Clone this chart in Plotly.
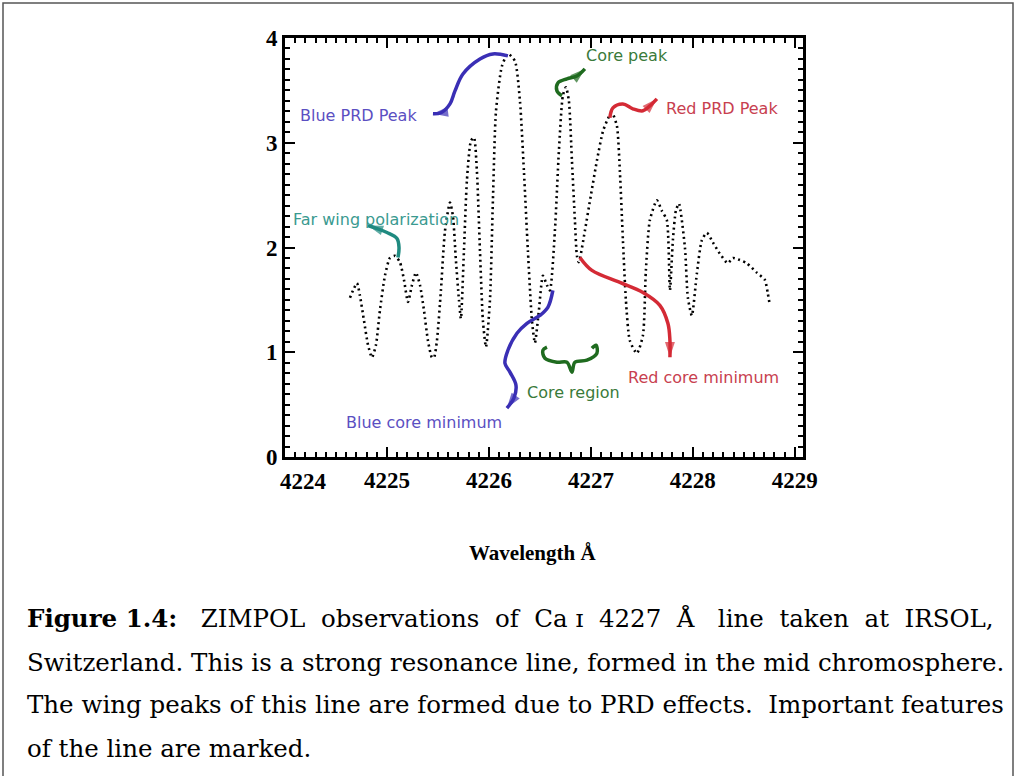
import plotly.graph_objects as go

# ---- data ----
wavelength = [4224.637, 4224.667, 4224.706, 4224.735, 4224.775, 4224.814, 4224.853, 4224.892, 4224.931, 4224.980,
              4225.029, 4225.078, 4225.127, 4225.167, 4225.206, 4225.245, 4225.284, 4225.324, 4225.363, 4225.402,
              4225.441, 4225.461, 4225.490, 4225.529, 4225.569, 4225.618, 4225.647, 4225.676, 4225.706, 4225.725,
              4225.755, 4225.784, 4225.824, 4225.853, 4225.882, 4225.912, 4225.941, 4225.971, 4226.010, 4226.039,
              4226.069, 4226.127, 4226.186, 4226.255, 4226.304, 4226.343, 4226.382, 4226.422, 4226.451, 4226.490,
              4226.529, 4226.569, 4226.598, 4226.647, 4226.686, 4226.725, 4226.755, 4226.784, 4226.814, 4226.843,
              4226.863, 4226.882, 4226.941, 4227.000, 4227.059, 4227.118, 4227.167, 4227.206, 4227.255, 4227.284,
              4227.314, 4227.343, 4227.382, 4227.451, 4227.510, 4227.539, 4227.578, 4227.647, 4227.696, 4227.745,
              4227.775, 4227.804, 4227.833, 4227.863, 4227.922, 4227.951, 4227.990, 4228.039, 4228.088, 4228.137,
              4228.196, 4228.265, 4228.343, 4228.392, 4228.461, 4228.529, 4228.627, 4228.706, 4228.735, 4228.755]
polarization = [1.52, 1.59, 1.66, 1.54, 1.30, 1.07, 0.95, 1.07, 1.40, 1.73,
                1.90, 1.92, 1.86, 1.69, 1.48, 1.64, 1.76, 1.64, 1.40, 1.11,
                0.95, 0.95, 1.11, 1.59, 2.16, 2.43, 2.30, 1.88, 1.50, 1.32,
                1.97, 2.64, 3.02, 3.05, 2.73, 1.97, 1.30, 1.05, 1.50, 2.45,
                3.30, 3.73, 3.85, 3.78, 3.40, 2.73, 1.97, 1.30, 1.09, 1.40,
                1.73, 1.64, 1.59, 2.16, 2.92, 3.45, 3.53, 3.40, 2.83, 2.26,
                1.92, 1.86, 2.16, 2.50, 2.83, 3.11, 3.23, 3.29, 3.16, 2.73,
                2.07, 1.50, 1.11, 0.99, 1.16, 1.78, 2.26, 2.45, 2.35, 2.26,
                1.59, 2.07, 2.35, 2.42, 2.00, 1.52, 1.35, 1.75, 2.07, 2.14,
                2.05, 1.94, 1.85, 1.90, 1.88, 1.85, 1.76, 1.69, 1.56, 1.45]

x_ticks = [4224, 4225, 4226, 4227, 4228, 4229]
y_ticks = [0, 1, 2, 3, 4]

caption_lines = [
    "<b>Figure 1.4:</b>   ZIMPOL  observations  of  Ca \u026a  4227  \u00c5   line  taken  at  IRSOL,",
    "Switzerland. This is a strong resonance line, formed in the mid chromosphere.",
    "The wing peaks of this line are formed due to PRD effects.  Important features",
    "of the line are marked.",
]

# hand-drawn markers (label text, colours, pen paths in data units)
marks = [
    dict(label="Blue PRD Peak", tcol="#5b4fc2", pcol="#3a2fb5", tx=4224.13, ty=3.26,
         px=[4226.186, 4226.039, 4225.912, 4225.745, 4225.667, 4225.618, 4225.529, 4225.451],
         py=[3.829, 3.848, 3.800, 3.657, 3.495, 3.371, 3.286, 3.276], arrow=True),
    dict(label="Far wing polarization", tcol="#3a9a90", pcol="#1f8a80", tx=4224.06, ty=2.27,
         px=[4225.108, 4225.118, 4225.098, 4225.000, 4224.902, 4224.814],
         py=[1.905, 2.000, 2.086, 2.143, 2.181, 2.210], arrow=True),
    dict(label="Core peak", tcol="#3a7a3a", pcol="#1f6b1f", tx=4226.93, ty=3.83,
         px=[4226.716, 4226.667, 4226.676, 4226.765, 4226.863, 4226.941],
         py=[3.448, 3.495, 3.571, 3.610, 3.638, 3.705], arrow=True),
    dict(label="Red PRD Peak", tcol="#c8404f", pcol="#d42a35", tx=4227.72, ty=3.33,
         px=[4227.186, 4227.216, 4227.314, 4227.412, 4227.510, 4227.578, 4227.647],
         py=[3.238, 3.333, 3.371, 3.324, 3.305, 3.352, 3.419], arrow=True),
    dict(label="Blue core minimum", tcol="#5b4fc2", pcol="#3a2fb5", tx=4224.58, ty=0.33,
         px=[4226.627, 4226.578, 4226.500, 4226.373, 4226.275, 4226.186, 4226.157, 4226.206, 4226.265, 4226.245, 4226.176],
         py=[1.590, 1.429, 1.352, 1.276, 1.181, 1.019, 0.895, 0.810, 0.686, 0.562, 0.467], arrow=True),
    dict(label="Core region", tcol="#3a7a3a", pcol="#1f6b1f", tx=4226.35, ty=0.62,
         px=[4227.010, 4227.049, 4227.059, 4226.961, 4226.843, 4226.814, 4226.765, 4226.667, 4226.549, 4226.529, 4226.569],
         py=[1.038, 1.067, 0.990, 0.924, 0.905, 0.810, 0.905, 0.905, 0.943, 1.019, 1.048], arrow=False),
    dict(label="Red core minimum", tcol="#c8404f", pcol="#d42a35", tx=4227.34, ty=0.76,
         px=[4226.892, 4227.010, 4227.284, 4227.510, 4227.676, 4227.755, 4227.775, 4227.775],
         py=[1.905, 1.781, 1.667, 1.571, 1.448, 1.276, 1.114, 0.952], arrow=True),
]

# ---- layout geometry (pixels) ----
W, H = 1016, 776
L, R, T, B = 285, 803, 38, 457


def paper_x(px):
    return (px - L) / (R - L)


def paper_y(py):
    return (B - py) / (B - T)


fig = go.Figure()

fig.add_trace(go.Scatter(
    x=wavelength, y=polarization, mode="lines",
    line=dict(color="black", width=2.6, dash="2px,3.5px", shape="spline", smoothing=0.6),
    hoverinfo="skip", showlegend=False))

annotations = []
for m in marks:
    n = len(m["px"])
    if m["arrow"]:
        fig.add_trace(go.Scatter(
            x=m["px"], y=m["py"], mode="lines+markers",
            line=dict(color=m["pcol"], width=3.5, shape="spline", smoothing=1.0),
            marker=dict(symbol=["circle"] * (n - 1) + ["arrow"], size=[0] * (n - 1) + [16],
                        angleref="previous", color=m["pcol"], line=dict(width=0)),
            hoverinfo="skip", showlegend=False))
    else:
        fig.add_trace(go.Scatter(
            x=m["px"], y=m["py"], mode="lines",
            line=dict(color=m["pcol"], width=3.5, shape="spline", smoothing=1.0),
            hoverinfo="skip", showlegend=False))
    annotations.append(dict(
        x=m["tx"], y=m["ty"], xref="x", yref="y", text=m["label"], showarrow=False,
        xanchor="left", yanchor="middle",
        font=dict(family="DejaVu Sans", size=16, color=m["tcol"])))

tick_font = dict(family="Liberation Serif", size=23, color="black", weight="bold")

# first x tick label sits shifted right of its tick in the original
annotations.append(dict(
    x=paper_x(303), y=paper_y(481), xref="paper", yref="paper", text=str(x_ticks[0]),
    showarrow=False, xanchor="center", yanchor="middle", font=tick_font))

# axis title
annotations.append(dict(
    x=paper_x(532), y=paper_y(553), xref="paper", yref="paper", text="Wavelength \u00c5",
    showarrow=False, xanchor="center", yanchor="middle",
    font=dict(family="Liberation Serif", size=21, color="black", weight="bold")))

# caption
caption_y = [618, 662, 705, 748]
for line, cy in zip(caption_lines, caption_y):
    annotations.append(dict(
        x=paper_x(25), y=paper_y(cy), xref="paper", yref="paper", text=line,
        showarrow=False, xanchor="left", yanchor="middle",
        font=dict(family="DejaVu Serif", size=24.5, color="black")))

axis_common = dict(
    showline=True, linewidth=3, linecolor="black", mirror="allticks",
    ticks="inside", ticklen=10, tickwidth=2, tickcolor="black",
    showgrid=False, zeroline=False, tickfont=tick_font,
    minor=dict(ticks="inside", ticklen=5, tickwidth=1.5, tickcolor="black", dtick=0.1, showgrid=False),
)

fig.update_xaxes(range=[4224, 4229.08], tickvals=x_ticks,
                 ticktext=[""] + [str(v) for v in x_ticks[1:]], **axis_common)
fig.update_yaxes(range=[0, 4.0], tickvals=y_ticks, ticktext=[str(v) for v in y_ticks], **axis_common)

fig.update_layout(
    width=W, height=H,
    margin=dict(l=L, r=W - R, t=T, b=H - B, autoexpand=False),
    paper_bgcolor="white", plot_bgcolor="white",
    annotations=annotations,
    shapes=[dict(type="rect", xref="paper", yref="paper",
                 x0=paper_x(3), x1=paper_x(1013), y0=paper_y(800), y1=paper_y(3),
                 line=dict(color="#555555", width=1.5), fillcolor="rgba(0,0,0,0)", layer="below")],
    showlegend=False,
)

fig.write_html("out.html")
